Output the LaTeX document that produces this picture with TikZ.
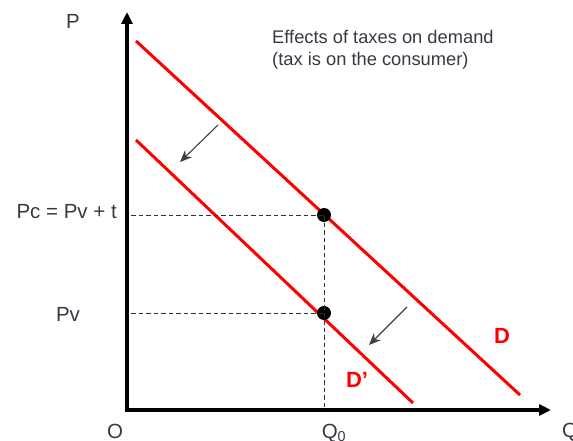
\documentclass[tikz,border=0pt]{standalone}
\usepackage{fontspec}
\setmainfont{Liberation Sans}
\usetikzlibrary{arrows.meta}
\definecolor{txt}{rgb}{0.22,0.22,0.27}
\definecolor{dred}{rgb}{1,0,0}
\begin{document}
\begin{tikzpicture}[x=1pt,y=-1pt,
  axis/.style={line width=3.5pt,-{Triangle[length=12pt,width=11pt]}},
  curve/.style={line width=3pt,dred},
  guide/.style={line width=0.9pt,black!80,dash pattern=on 4.5pt off 3pt},
  shiftarrow/.style={line width=1.1pt,black!75,-{Stealth[length=12pt,width=10pt]}},
  lbl/.style={text=txt,font=\fontsize{20.5}{22}\selectfont,inner sep=0pt},
  dlbl/.style={text=dred,font=\fontsize{22}{24}\selectfont\bfseries,inner sep=0pt},
  pt/.style={circle,fill=black,inner sep=0pt,minimum size=14pt}]
\useasboundingbox (0,0) rectangle (573,441);
\coordinate (O) at (127,410);
\coordinate (ytip) at (127,12);
\coordinate (xtip) at (551,410);
\draw[axis] (127,412) -- (ytip);
\draw[axis] (125,410) -- (xtip);
% demand curves
\coordinate (D1) at (136,41);
\coordinate (D2) at (520,395);
\coordinate (E1) at (136,140);
\coordinate (E2) at (413,403);
\draw[curve] (D1) -- (D2);
\draw[curve] (E1) -- (E2);
% points
\node[pt] (pc) at (324,215) {};
\node[pt] (pv) at (324,313) {};
\coordinate (pcax) at (131,215);
\coordinate (pvax) at (131,313);
\coordinate (q0ax) at (324,408);
\draw[guide] (pcax) -- (pc.center);
\draw[guide] (pvax) -- (pv.center);
\draw[guide] (pc.center) -- (q0ax);
% shift arrows
\coordinate (a1s) at (218,125);
\coordinate (a1e) at (180,162);
\coordinate (a2s) at (407,307);
\coordinate (a2e) at (369,345);
\draw[shiftarrow] (a1s) -- (a1e);
\draw[shiftarrow] (a2s) -- (a2e);
% labels
\node[lbl] (Plab) at (73,21) {P};
\node[lbl,anchor=east] (pclab) at (117,212) {Pc = Pv + t};
\node[lbl] (pvlab) at (68,314) {Pv};
\node[lbl] (Olab) at (115,431) {O};
\node[lbl] (q0lab) at (334,433) {Q$_{\mathrm{0}}$};
\node[lbl,anchor=west] (qlab) at (562,432) {Q};
\node[dlbl] (Dlab) at (502,336) {D};
\node[dlbl] (Dplab) at (357,380) {D’};
\node[text=txt,font=\fontsize{18.3}{22}\selectfont,anchor=north west,align=left,inner sep=0pt] (title) at (272,30) {Effects of taxes on demand\\(tax is on the consumer)};
\end{tikzpicture}
\end{document}
